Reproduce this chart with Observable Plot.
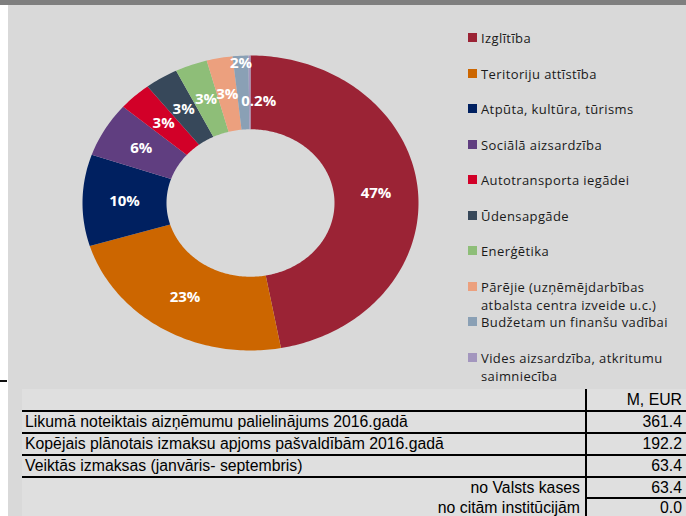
<!DOCTYPE html>
<html><head><meta charset="utf-8">
<script src="https://cdn.jsdelivr.net/npm/d3@7"></script>
<script src="https://cdn.jsdelivr.net/npm/@observablehq/plot@0.6"></script>
<style>
body{margin:0;background:#fff;}
#wrap{position:relative;width:686px;height:516px;overflow:hidden;background:#fff;}
.abs{position:absolute;}
#topbar{left:0;top:0;width:686px;height:5px;background:#7f7f7f;}
#panel{left:8px;top:5px;right:0;bottom:0;background:#d9d9d9;}
#dash{left:0;top:380px;width:7px;height:2px;background:#111;}
#wrap svg{position:absolute;left:0;top:0;}
.leg{position:absolute;left:468px;width:212px;font-family:"Open Sans",sans-serif;font-size:13px;letter-spacing:0.4px;line-height:18px;color:#1a1a1a;}
.leg .sw{position:absolute;left:0;top:4px;width:9px;height:9px;}
.leg .tx{margin-left:13px;width:190px;}
#table{left:22px;top:389px;right:0;bottom:0;background:#dfdfdf;font-family:"Liberation Sans",Arial,sans-serif;font-size:15.8px;color:#000;}
.cell{position:absolute;height:22px;line-height:22px;white-space:nowrap;}
.hl{position:absolute;height:2px;background:#000;}
</style></head>
<body><div id="wrap">
<div id="topbar" class="abs"></div>
<div id="panel" class="abs"></div>
<div id="dash" class="abs"></div>
</div>
<script>
// ---- data ----
const categories = [
  "Izglītība",
  "Teritoriju attīstība",
  "Atpūta, kultūra, tūrisms",
  "Sociālā aizsardzība",
  "Autotransporta iegādei",
  "Ūdensapgāde",
  "Enerģētika",
  "Pārējie (uzņēmējdarbības atbalsta centra izveide u.c.)",
  "Budžetam un finanšu vadībai",
  "Vides aizsardzība, atkritumu saimniecība"
];
const shares = [47.1, 23.2, 10.0, 6.0, 3.2, 3.2, 3.1, 2.5, 1.5, 0.2];
const shareLabels = ["47%", "23%", "10%", "6%", "3%", "3%", "3%", "3%", "2%", "0.2%"];
const colors = ["#9b2335", "#cc6600", "#002060", "#603e80", "#d20028", "#37485a", "#8ebe78", "#eca07e", "#8aa0b5", "#a396be"];

const tableHeader = "M, EUR";
const tableLabels = [
  "Likumā noteiktais aizņēmumu palielinājums 2016.gadā",
  "Kopējais plānotais izmaksu apjoms pašvaldībām 2016.gadā",
  "Veiktās izmaksas (janvāris- septembris)",
  "no Valsts kases",
  "no citām institūcijām"
];
const tableValues = [361.4, 192.2, 63.4, 63.4, 0.0];
const tableIndented = [false, false, false, true, true];

// ---- donut geometry (unit space, mapped through x/y scales) ----
const total = d3.sum(shares);
const inner = 0.5;
let cum = 0;
const slices = shares.map((v, i) => {
  const a0 = cum / total * 2 * Math.PI;
  cum += v;
  const a1 = cum / total * 2 * Math.PI;
  const n = Math.max(2, Math.ceil((a1 - a0) / (2 * Math.PI) * 360));
  const pts = [];
  for (let k = 0; k <= n; k++) { const a = a0 + (a1 - a0) * k / n; pts.push({x: Math.sin(a), y: Math.cos(a)}); }
  for (let k = n; k >= 0; k--) { const a = a0 + (a1 - a0) * k / n; pts.push({x: inner * Math.sin(a), y: inner * Math.cos(a)}); }
  return {i, a0, a1, pts};
});
const labelPts = slices.map(s => {
  const mid = (s.a0 + s.a1) / 2;
  const next = shares[s.i + 1];
  const r = (next !== undefined && next < 1) ? 0.95 : 0.75;
  return {x: r * Math.sin(mid), y: r * Math.cos(mid), text: shareLabels[s.i], tiny: shares[s.i] < 1};
});

const chart = Plot.plot({
  width: 500, height: 390,
  marginLeft: 82, marginRight: 82, marginTop: 55, marginBottom: 40,
  x: {domain: [-1, 1], axis: null},
  y: {domain: [-1, 1], axis: null},
  style: {background: "transparent", overflow: "visible"},
  marks: [
    ...slices.map(s => Plot.line(s.pts, {x: "x", y: "y", fill: colors[s.i], stroke: "none", curve: "linear"})),
    Plot.text(labelPts.filter(d => !d.tiny), {x: "x", y: "y", text: "text", fill: "white", fontWeight: "bold", fontSize: 15, fontFamily: "Open Sans"}),
    Plot.text(labelPts.filter(d => d.tiny), {x: "x", y: "y", text: "text", dx: 9, dy: 9, fill: "white", fontWeight: "bold", fontSize: 15, fontFamily: "Open Sans"})
  ]
});
const wrap = document.getElementById("wrap");
wrap.appendChild(chart);

// ---- legend ----
categories.forEach((c, i) => {
  const d = document.createElement("div");
  d.className = "leg";
  d.style.top = (29 + 35.5 * i) + "px";
  d.innerHTML = `<div class="sw" style="background:${colors[i]}"></div><div class="tx">${c}</div>`;
  wrap.appendChild(d);
});

// ---- table ----
const tbl = document.createElement("div");
tbl.id = "table"; tbl.className = "abs";
wrap.appendChild(tbl);
const colX = 586 - 22;
const addCell = (txt, top, left, width, align) => {
  const c = document.createElement("div");
  c.className = "cell";
  c.style.top = top + "px"; c.style.left = left + "px"; c.style.width = width + "px"; c.style.textAlign = align;
  c.textContent = txt; tbl.appendChild(c);
};
const addLine = (top, left, width) => {
  const l = document.createElement("div"); l.className = "hl";
  l.style.top = top + "px"; l.style.left = left + "px"; l.style.width = width + "px"; tbl.appendChild(l);
};
addCell(tableHeader, 0, colX + 2, 94, "right");
tableLabels.forEach((t, i) => {
  const top = 22 * (i + 1) - (i === 4 ? 2 : 0);
  if (tableIndented[i]) addCell(t, top, 0, colX - 6, "right");
  else addCell(t, top, 3, colX - 6, "left");
  addCell(tableValues[i].toFixed(1), top, colX + 2, 94, "right");
});
[1, 2, 3, 4].forEach(k => addLine(22 * k - 1, 0, 686 - 22));
addLine(22 * 5 - 2, colX, 686 - 586);
const v = document.createElement("div");
v.style.cssText = `position:absolute;left:${colX - 1}px;top:0;width:2px;bottom:0;background:#000;`;
tbl.appendChild(v);
</script>
</body></html>
